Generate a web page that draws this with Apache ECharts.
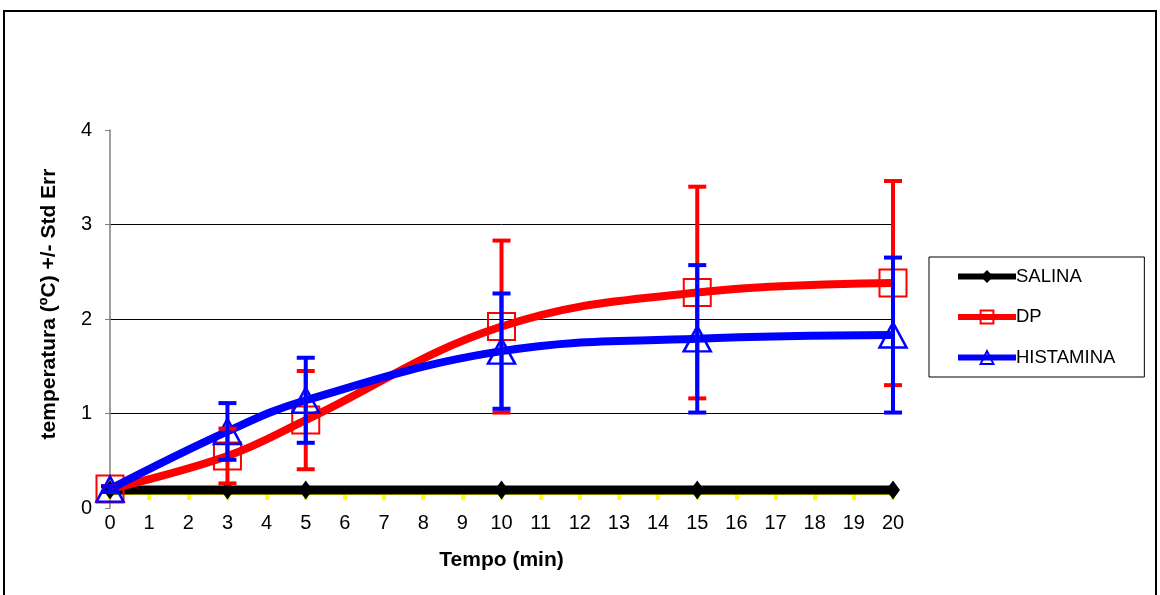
<!DOCTYPE html>
<html><head><meta charset="utf-8">
<script src="https://cdn.jsdelivr.net/npm/echarts@6/dist/echarts.min.js"></script>
<style>html,body{margin:0;padding:0;background:#fff}#c{width:1160px;height:595px}</style>
</head><body><div id="c"></div>
<script>
const times = [0, 3, 5, 10, 15, 20];
const salina = [0.19, 0.19, 0.19, 0.19, 0.19, 0.19];
const dp = [0.20, 0.55, 0.93, 1.92, 2.28, 2.38];
const dpErr = [0.03, 0.29, 0.52, 0.91, 1.12, 1.08];
const hist = [0.20, 0.81, 1.14, 1.66, 1.79, 1.83];
const histErr = [0.03, 0.30, 0.45, 0.61, 0.78, 0.82];
const yTicks = [0, 1, 2, 3, 4];
const xTitle = 'Tempo (min)';
const yTitle = 'temperatura (ºC) +/- Std Err';

const FONT = 'Liberation Sans, Arial, sans-serif';
const RED = '#ff0000', BLUE = '#0000ff';

function pairs(ys) { return times.map((t, i) => [t, ys[i]]); }
function errData(ys, es) { return times.map((t, i) => [t, ys[i] - es[i], ys[i] + es[i]]); }
function errSeries(name, ys, es, color, z) {
  return {
    type: 'custom', name: name + ' err', z: z, silent: true,
    data: errData(ys, es),
    renderItem: function (params, api) {
      const x = api.value(0);
      const lo = api.coord([x, api.value(1)]);
      const hi = api.coord([x, api.value(2)]);
      const hw = 9;
      const st = { stroke: color, lineWidth: 4, fill: null };
      return { type: 'group', children: [
        { type: 'line', shape: { x1: lo[0], y1: lo[1], x2: hi[0], y2: hi[1] }, style: st },
        { type: 'line', shape: { x1: lo[0] - hw, y1: lo[1], x2: lo[0] + hw, y2: lo[1] }, style: st },
        { type: 'line', shape: { x1: hi[0] - hw, y1: hi[1], x2: hi[0] + hw, y2: hi[1] }, style: st }
      ]};
    }
  };
}

const chart = echarts.init(document.getElementById('c'), null, { renderer: 'canvas' });
chart.setOption({
  animation: false,
  backgroundColor: '#fff',
  textStyle: { fontFamily: FONT },
  grid: { left: 110, right: 267, top: 130, bottom: 87, containLabel: false },
  graphic: [
    { type: 'rect', shape: { x: 4, y: 11, width: 1152, height: 600 }, style: { fill: null, stroke: '#000', lineWidth: 2 }, silent: true },
    { type: 'text', x: 49, y: 304, rotation: Math.PI / 2, style: { text: yTitle, font: 'bold 21px ' + FONT, fill: '#000', align: 'center', verticalAlign: 'middle' } }
  ],
  legend: {
    orient: 'vertical', left: 929, top: 257,
    padding: [10, 29, 10, 26],
    itemWidth: 58, itemHeight: 16, itemGap: 21.5,
    borderColor: '#000', borderWidth: 1,
    lineStyle: { width: 6 },
    textStyle: { fontFamily: FONT, fontSize: 18.5, color: '#000', padding: [0, 0, 0, -5] },
    data: ['SALINA', 'DP', 'HISTAMINA']
  },
  xAxis: {
    type: 'value', min: 0, max: 20, interval: 1,
    offset: -14,
    name: xTitle, nameLocation: 'middle', nameGap: 56,
    nameTextStyle: { fontFamily: FONT, fontSize: 21, fontWeight: 'bold', color: '#000' },
    axisLine: { onZero: false, lineStyle: { color: '#ffff00', width: 1 } },
    axisTick: { show: true, length: 6, lineStyle: { color: '#ffff00', width: 4 } },
    axisLabel: { margin: 19, fontFamily: FONT, fontSize: 20, color: '#000' },
    splitLine: { show: false }
  },
  yAxis: {
    type: 'value', min: 0, max: 4, interval: 1,
    axisLine: { show: true, lineStyle: { color: '#808080', width: 1.5 } },
    axisTick: { show: true, length: 5, lineStyle: { color: '#808080', width: 1 } },
    axisLabel: { margin: 18, fontFamily: FONT, fontSize: 20, color: '#000' },
    splitLine: { show: true, showMinLine: false, showMaxLine: false, lineStyle: { color: '#000', width: 1 } }
  },
  series: [
    { type: 'line', name: 'SALINA', data: pairs(salina), z: 3,
      lineStyle: { color: '#000', width: 9 },
      symbol: 'diamond', symbolSize: [14, 19],
      itemStyle: { color: '#000' } },
    { type: 'line', name: 'DP', data: pairs(dp), z: 4, smooth: 0.4,
      lineStyle: { color: RED, width: 8 },
      symbol: 'rect', symbolSize: 27,
      itemStyle: { color: 'rgba(255,255,255,0)', borderColor: RED, borderWidth: 2 } },
    { type: 'line', name: 'HISTAMINA', data: pairs(hist), z: 5, smooth: 0.4,
      lineStyle: { color: BLUE, width: 8 },
      symbol: 'triangle', symbolSize: [27, 25],
      itemStyle: { color: 'rgba(255,255,255,0)', borderColor: BLUE, borderWidth: 2.5 } },
    errSeries('DP', dp, dpErr, RED, 6),
    errSeries('HISTAMINA', hist, histErr, BLUE, 7)
  ]
});
</script></body></html>
